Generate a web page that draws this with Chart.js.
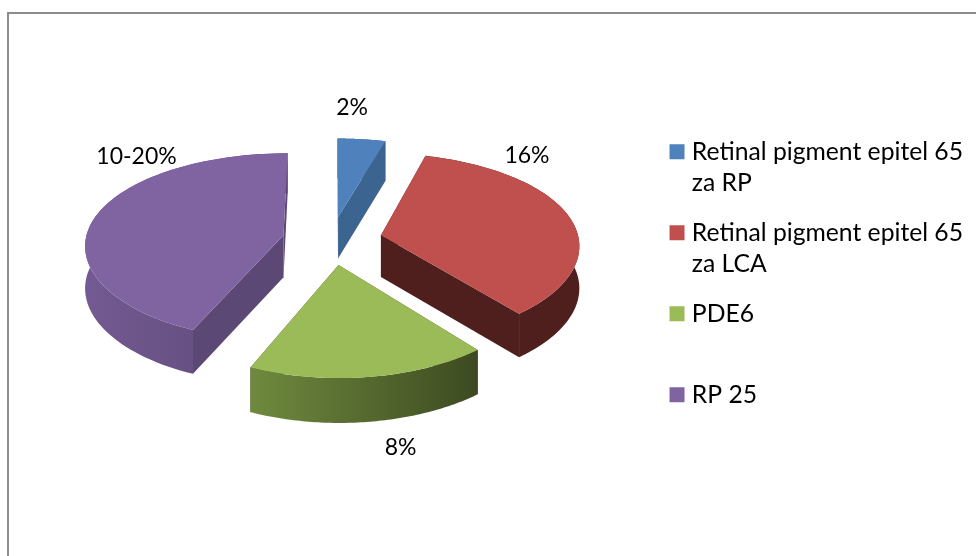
<!DOCTYPE html>
<html>
<head>
<meta charset="utf-8">
<script src="https://cdn.jsdelivr.net/npm/chart.js@4"></script>
<style>
  html, body { margin: 0; padding: 0; background: #fff; overflow: hidden; }
  #frame { position: absolute; left: 7px; top: 12px; width: 1100px; height: 800px; border: 2px solid #8c8c8c; }
  #wrap { position: absolute; left: 0; top: 0; width: 976px; height: 556px; }
</style>
</head>
<body>
<div id="frame"></div>
<div id="wrap"><canvas id="myChart"></canvas></div>
<script>
const categories = [
    ['Retinal pigment epitel 65', 'za RP'],
    ['Retinal pigment epitel 65', 'za LCA'],
    ['PDE6', ''],
    ['RP 25', '']
];
const values = [2, 16, 8, 20];
const valueLabels = ['2%', '16%', '8%', '10-20%'];

const topColors = ['#4f81bd', '#c0504d', '#9bbb59', '#8064a2'];
const wallLeft = ['#3c6490', '#4f1f1d', '#6f8a3e', '#735a92'];
const wallRight = ['#3c6490', '#4f1f1d', '#3d4a21', '#5c4875'];
const cutColors = ['#3c6490', '#4f1f1d', '#3d4a21', '#5c4875'];
const explode = [51, 51, 52, 49];
const labelShift = [[14, -109], [146, -80], [62, 183], [-147, -79]];

// perspective of the pie plane
const tilt = 93, perspY = 0.12, perspX = 0.095, depth = 42, shiftY = -52;

function project(arc, u, v) {
    const s = 1 / (1 - perspX * v);
    return {
        x: arc.x + arc.outerRadius * u * s,
        y: arc.y + shiftY + tilt * v / (1 - perspY * v),
        s: s
    };
}

function drawSlice(ctx, arc, i) {
    const mid = (arc.startAngle + arc.endAngle) / 2;
    const d = arc.options.offset / arc.outerRadius;
    const a0 = Math.cos(mid) * d, b0 = Math.sin(mid) * d;
    const apex = project(arc, a0, b0);
    const rim = [];
    const steps = 80;
    for (let k = 0; k <= steps; k++) {
        const t = arc.startAngle + (arc.endAngle - arc.startAngle) * k / steps;
        rim.push(project(arc, a0 + Math.cos(t), b0 + Math.sin(t)));
    }
    const low = p => p.y + depth * (1 + (p.s - 1) * 0.5);

    // cut faces
    ctx.fillStyle = cutColors[i];
    [rim[0], rim[steps]].forEach(p => {
        ctx.beginPath();
        ctx.moveTo(apex.x, apex.y);
        ctx.lineTo(p.x, p.y);
        ctx.lineTo(p.x, low(p));
        ctx.lineTo(apex.x, low(apex));
        ctx.closePath();
        ctx.fill();
    });

    // outer wall
    const xs = rim.map(p => p.x);
    const grad = ctx.createLinearGradient(Math.min(...xs), 0, Math.max(...xs), 0);
    grad.addColorStop(0, wallLeft[i]);
    grad.addColorStop(1, wallRight[i]);
    ctx.fillStyle = grad;
    ctx.beginPath();
    rim.forEach((p, k) => k ? ctx.lineTo(p.x, p.y) : ctx.moveTo(p.x, p.y));
    rim.slice().reverse().forEach(p => ctx.lineTo(p.x, low(p)));
    ctx.closePath();
    ctx.fill();

    // top
    ctx.fillStyle = arc.options.backgroundColor;
    ctx.beginPath();
    ctx.moveTo(apex.x, apex.y);
    rim.forEach(p => ctx.lineTo(p.x, p.y));
    ctx.closePath();
    ctx.fill();

    // value label
    ctx.fillStyle = '#000';
    ctx.font = '23px Lato';
    ctx.textAlign = 'center';
    ctx.textBaseline = 'middle';
    ctx.fillText(valueLabels[i], apex.x + labelShift[i][0], apex.y + labelShift[i][1]);
}

const pie3d = {
    id: 'pie3d',
    beforeDatasetDraw(chart, args) {
        const ctx = chart.ctx;
        ctx.save();
        args.meta.data.forEach((arc, i) => drawSlice(ctx, arc, i));
        ctx.restore();
        return false;
    }
};

const config = {
    type: 'pie',
    data: {
        labels: categories,
        datasets: [{
            data: values,
            backgroundColor: topColors,
            borderWidth: 0,
            offset: explode,
            radius: 198
        }]
    },
    options: {
        responsive: false,
        animation: false,
        layout: { padding: { top: 28, left: 7, right: 3 } },
        plugins: {
            tooltip: { enabled: false },
            legend: {
                position: 'right',
                labels: {
                    usePointStyle: true,
                    pointStyle: 'rect',
                    boxWidth: 5,
                    boxHeight: 15,
                    padding: 19,
                    color: '#000',
                    font: { family: 'Lato', size: 24.7, lineHeight: 1.255 }
                }
            }
        }
    },
    plugins: [pie3d]
};

const canvas = document.getElementById('myChart');
canvas.width = 976;
canvas.height = 556;
const myChart = new Chart(canvas, config);
</script>
</body>
</html>
